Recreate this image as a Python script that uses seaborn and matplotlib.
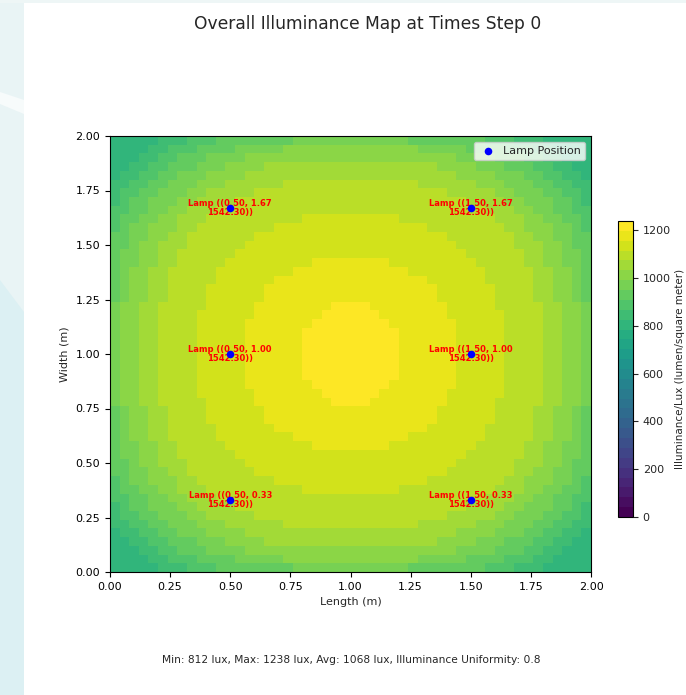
import numpy as np
import matplotlib
matplotlib.use("Agg")
import matplotlib.pyplot as plt
from matplotlib.patches import Polygon
import seaborn as sns

# ---------------- data ----------------
ROOM_LENGTH = 2.0
ROOM_WIDTH = 2.0
LAMP_X = [0.50, 0.50, 0.50, 1.50, 1.50, 1.50]
LAMP_Y = [0.33, 1.00, 1.67, 0.33, 1.00, 1.67]
LAMP_LUMEN = [1542.30, 1542.30, 1542.30, 1542.30, 1542.30, 1542.30]

# illuminance (lux) of each colour band seen in the map (letter -> lux)
LEVEL_LUX = {"A": 818, "B": 846, "C": 887, "D": 929, "E": 970, "F": 1011,
             "G": 1052, "H": 1094, "I": 1135, "J": 1176, "K": 1217}

# 50 x 50 cells, top row = width 2.00 m, left column = length 0.00 m
ILLUM_ROWS = [
    "AAAAABBBCCCDDDDDDDDEEEEEE" "EEEEEEDDDDDDDDCCCBBBAAAAA",
    "AAAABBCCCDDDDEEEEEFFFFFFF" "FFFFFFFEEEEEDDDDCCCBBAAAA",
    "AAABBCCDDDEEEEFFFFFFFFFFF" "FFFFFFFFFFFEEEEDDDCCBBAAA",
    "AABBCCDDDEEEFFFFGGGGGGGGG" "GGGGGGGGGFFFFEEEDDDCCBBAA",
    "ABBCCDDEEEFFFFGGGGGGGGGGG" "GGGGGGGGGGGFFFFEEEDDCCBBA",
    "BBCCDDEEEFFFGGGGGGHHHHHHH" "HHHHHHHGGGGGGFFFEEEDDCCBB",
    "BCCDDEEEFFGGGGGHHHHHHHHHH" "HHHHHHHHHHGGGGGFFEEEDDCCB",
    "BCDDEEEFFGGGGHHHHHHHHHHHH" "HHHHHHHHHHHHGGGGFFEEEDDCB",
    "CCDDEEFFGGGHHHHHHHHHHHHHH" "HHHHHHHHHHHHHHGGGFFEEDDCC",
    "CDDEEFFGGGHHHHHHHHHHIIIII" "IIIIIHHHHHHHHHHGGGFFEEDDC",
    "CDEEFFFGGHHHHHHHHIIIIIIII" "IIIIIIIIHHHHHHHHGGFFFEEDC",
    "DDEEFFGGHHHHHHHIIIIIIIIII" "IIIIIIIIIIHHHHHHHGGFFEEDD",
    "DDEFFGGGHHHHHHIIIIIIIIIII" "IIIIIIIIIIIHHHHHHGGGFFEDD",
    "DEEFFGGHHHHHHIIIIIIIIIIII" "IIIIIIIIIIIIHHHHHHGGFFEED",
    "DEEFFGGHHHHHIIIIIIIIIJJJJ" "JJJJIIIIIIIIIHHHHHGGFFEED",
    "DEFFGGHHHHHIIIIIIIIJJJJJJ" "JJJJJJIIIIIIIIHHHHHGGFFED",
    "DEFFGGHHHHHIIIIIIJJJJJJJJ" "JJJJJJJJIIIIIIHHHHHGGFFED",
    "DEFFGGHHHHIIIIIIJJJJJJJJJ" "JJJJJJJJJIIIIIIHHHHGGFFED",
    "DEFFGGHHHHIIIIIIJJJJJJJJJ" "JJJJJJJJJIIIIIIHHHHGGFFED",
    "EFFGGHHHHHIIIIIJJJJJJJJKK" "KKJJJJJJJJIIIIIHHHHHGGFFE",
    "EFFGGHHHHIIIIIIJJJJJJJKKK" "KKKJJJJJJJIIIIIIHHHHGGFFE",
    "EFFGGHHHHIIIIIJJJJJJJKKKK" "KKKKJJJJJJJIIIIIHHHHGGFFE",
    "EFFGGHHHHIIIIIJJJJJJKKKKK" "KKKKKJJJJJJIIIIIHHHHGGFFE",
    "EFFGGHHHHIIIIIJJJJJJKKKKK" "KKKKKJJJJJJIIIIIHHHHGGFFE",
    "EFFGGHHHHIIIIIJJJJJJKKKKK" "KKKKKJJJJJJIIIIIHHHHGGFFE",
    "EFFGGHHHHIIIIIJJJJJJKKKKK" "KKKKKJJJJJJIIIIIHHHHGGFFE",
    "EFFGGHHHHIIIIIJJJJJJKKKKK" "KKKKKJJJJJJIIIIIHHHHGGFFE",
    "EFFGGHHHHIIIIIJJJJJJKKKKK" "KKKKKJJJJJJIIIIIHHHHGGFFE",
    "EFFGGHHHHIIIIIJJJJJJJKKKK" "KKKKJJJJJJJIIIIIHHHHGGFFE",
    "EFFGGHHHHIIIIIIJJJJJJJKKK" "KKKJJJJJJJIIIIIIHHHHGGFFE",
    "EFFGGHHHHHIIIIIJJJJJJJJKK" "KKJJJJJJJJIIIIIHHHHHGGFFE",
    "DEFFGGHHHHIIIIIIJJJJJJJJJ" "JJJJJJJJJIIIIIIHHHHGGFFED",
    "DEFFGGHHHHIIIIIIJJJJJJJJJ" "JJJJJJJJJIIIIIIHHHHGGFFED",
    "DEFFGGHHHHHIIIIIIJJJJJJJJ" "JJJJJJJJIIIIIIHHHHHGGFFED",
    "DEFFGGHHHHHIIIIIIIIJJJJJJ" "JJJJJJIIIIIIIIHHHHHGGFFED",
    "DEEFFGGHHHHHIIIIIIIIIJJJJ" "JJJJIIIIIIIIIHHHHHGGFFEED",
    "DEEFFGGHHHHHHIIIIIIIIIIII" "IIIIIIIIIIIIHHHHHHGGFFEED",
    "DDEFFGGGHHHHHHIIIIIIIIIII" "IIIIIIIIIIIHHHHHHGGGFFEDD",
    "DDEEFFGGHHHHHHHIIIIIIIIII" "IIIIIIIIIIHHHHHHHGGFFEEDD",
    "CDEEFFFGGHHHHHHHHIIIIIIII" "IIIIIIIIHHHHHHHHGGFFFEEDC",
    "CDDEEFFGGGHHHHHHHHHHIIIII" "IIIIIHHHHHHHHHHGGGFFEEDDC",
    "CCDDEEFFGGGHHHHHHHHHHHHHH" "HHHHHHHHHHHHHHGGGFFEEDDCC",
    "BCDDEEEFFGGGGHHHHHHHHHHHH" "HHHHHHHHHHHHGGGGFFEEEDDCB",
    "BCCDDEEEFFGGGGGHHHHHHHHHH" "HHHHHHHHHHGGGGGFFEEEDDCCB",
    "BBCCDDEEEFFFGGGGGGHHHHHHH" "HHHHHHHGGGGGGFFFEEEDDCCBB",
    "ABBCCDDEEEFFFFGGGGGGGGGGG" "GGGGGGGGGGGFFFFEEEDDCCBBA",
    "AABBCCDDDEEEFFFFGGGGGGGGG" "GGGGGGGGGFFFFEEEDDDCCBBAA",
    "AAABBCCDDDEEEEFFFFFFFFFFF" "FFFFFFFFFFFEEEEDDDCCBBAAA",
    "AAAABBCCCDDDDEEEEEFFFFFFF" "FFFFFFFEEEEEDDDDCCCBBAAAA",
    "AAAAABBBCCCDDDDDDDDEEEEEE" "EEEEEEDDDDDDDDCCCBBBAAAAA",
]

MIN_LUX, MAX_LUX, AVG_LUX, UNIFORMITY = 812, 1238, 1068, 0.8
N_BANDS = 30
AXIS_TICKS = [0.00, 0.25, 0.50, 0.75, 1.00, 1.25, 1.50, 1.75, 2.00]
CBAR_TICKS = [0, 200, 400, 600, 800, 1000, 1200]
TITLE = "Overall Illuminance Map at Times Step 0"
CBAR_LABEL = "Illuminance/Lux (lumen/square meter)"

# ---------------- figure ----------------
sns.set_style("ticks")
plt.rcParams["font.family"] = ["DejaVu Sans"]

W, H = 686, 695
fig = plt.figure(figsize=(W / 100, H / 100), dpi=100)
fig.patch.set_facecolor("white")

# light page background visible at the left / top edge of the screenshot
def fig_poly(points, color):
    fig.patches.append(Polygon([(x / W, 1 - y / H) for x, y in points], closed=True,
                               transform=fig.transFigure, facecolor=color,
                               edgecolor="none", zorder=-5))

fig_poly([(0, 0), (24, 0), (24, 695), (0, 695)], "#e9f4f5")
fig_poly([(0, 0), (686, 0), (686, 3), (0, 3)], "#eef6f6")
fig_poly([(0, 92), (24, 100), (24, 114), (0, 104)], "#f7fbfb")
fig_poly([(0, 280), (24, 312), (24, 695), (0, 695)], "#dcf0f3")

ax = fig.add_axes([110 / W, 123 / H, 481 / W, 436 / H])
cax = fig.add_axes([618 / W, 178 / H, 15 / W, 296 / H])

grid = np.array([[LEVEL_LUX[ch] for ch in row] for row in ILLUM_ROWS], dtype=float)
nrows, ncols = grid.shape
cmap = plt.get_cmap("viridis", N_BANDS)

sns.heatmap(grid, ax=ax, cmap=cmap, vmin=0, vmax=MAX_LUX, cbar_ax=cax,
            xticklabels=False, yticklabels=False,
            cbar_kws={"ticks": CBAR_TICKS})

cells_x = ncols / ROOM_LENGTH
cells_y = nrows / ROOM_WIDTH

# axes ticks in metres
ax.set_xticks([t * cells_x for t in AXIS_TICKS])
ax.set_xticklabels([f"{t:.2f}" for t in AXIS_TICKS], fontsize=8)
ax.set_yticks([(ROOM_WIDTH - t) * cells_y for t in AXIS_TICKS])
ax.set_yticklabels([f"{t:.2f}" for t in AXIS_TICKS], fontsize=8, rotation=0)
ax.tick_params(axis="both", length=3.5, width=0.8, direction="out",
               bottom=True, left=True, color="black", labelcolor="black")
for s in ax.spines.values():
    s.set_visible(True)
    s.set_color("black")
    s.set_linewidth(0.8)
ax.set_xlabel("Length (m)", fontsize=8)
ax.set_ylabel("Width (m)", fontsize=8)

# lamps
lx = [x * cells_x for x in LAMP_X]
ly = [(ROOM_WIDTH - y) * cells_y for y in LAMP_Y]
for x, y, px, py, lm in zip(LAMP_X, LAMP_Y, lx, ly, LAMP_LUMEN):
    ax.text(px, py, f"Lamp (({x:.2f}, {y:.2f}\n{lm:.2f}))", color="red",
            fontsize=6, fontweight="bold", ha="center", va="center",
            linespacing=1.0, zorder=3)
sns.scatterplot(x=lx, y=ly, ax=ax, color="blue", s=30, linewidth=0,
                label="Lamp Position", zorder=4)
leg = ax.legend(loc="upper right", fontsize=8, frameon=True,
                handlelength=1.6, handletextpad=0.6)
leg.get_frame().set_edgecolor("#cccccc")

# colorbar
cbar = ax.collections[0].colorbar
cbar.outline.set_visible(True)
cbar.outline.set_linewidth(0.8)
cbar.outline.set_edgecolor("black")
cbar.ax.tick_params(labelsize=8, length=3.5, width=0.8)
cbar.set_label(CBAR_LABEL, fontsize=7.5, labelpad=3)

# texts
fig.text(368 / W, 1 - 24 / H, TITLE, ha="center", va="center", fontsize=12.3)
fig.text(351 / W, 1 - 660 / H,
         f"Min: {MIN_LUX} lux, Max: {MAX_LUX} lux, Avg: {AVG_LUX} lux, "
         f"Illuminance Uniformity: {UNIFORMITY}",
         ha="center", va="center", fontsize=7.65)

fig.savefig("out.png", dpi=100)
